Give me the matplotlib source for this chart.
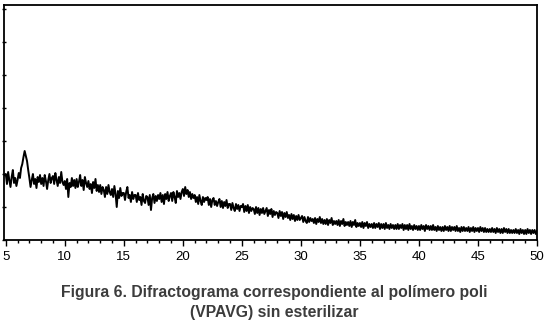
import numpy as np
import matplotlib.pyplot as plt

# 2-theta grid of the scan (deg), 0.1 deg step
theta_start = 4.9
theta_step = 0.1

# intensity (arbitrary units), one row per degree
intensity = [
    65,
    66, 56, 68, 60, 53, 63, 70, 57, 62, 54,
    60, 67, 62, 72, 76, 83, 89, 84, 79, 70,
    62, 53, 60, 66, 56, 61, 52, 63, 58, 65,
    56, 62, 54, 65, 59, 51, 60, 66, 57, 62,
    64, 56, 67, 60, 54, 63, 57, 68, 58, 55,
    59, 51, 61, 43, 57, 53, 62, 54, 60, 52,
    61, 53, 58, 65, 54, 60, 50, 63, 57, 53,
    59, 51, 56, 47, 58, 52, 61, 49, 55, 48,
    55, 46, 53, 50, 43, 53, 46, 55, 48, 45,
    51, 43, 54, 46, 33, 49, 42, 52, 44, 47,
    47, 40, 48, 53, 42, 45, 38, 48, 41, 45,
    45, 38, 47, 40, 43, 35, 46, 39, 37, 44,
    43, 35, 45, 30, 42, 46, 37, 44, 39, 45,
    41, 47, 38, 45, 36, 46, 41, 48, 39, 44,
    47, 39, 48, 43, 37, 49, 43, 47, 41, 48,
    51, 44, 53, 46, 50, 43, 48, 41, 46, 42,
    45, 38, 43, 36, 45, 39, 35, 43, 38, 42,
    40, 43, 35, 41, 33, 40, 42, 35, 39, 34,
    38, 41, 33, 39, 32, 38, 34, 40, 32, 36,
    36, 30, 37, 32, 29, 36, 31, 35, 29, 34,
    33, 36, 28, 34, 29, 35, 27, 33, 29, 32,
    31, 26, 33, 27, 32, 25, 31, 27, 32, 26,
    29, 32, 24, 30, 26, 31, 23, 29, 25, 28,
    27, 22, 29, 24, 28, 21, 27, 23, 28, 22,
    25, 20, 26, 21, 25, 19, 24, 20, 25, 20,
    22, 24, 18, 23, 19, 17, 23, 18, 22, 19,
    21, 17, 22, 16, 21, 18, 23, 17, 21, 16,
    20, 16, 21, 15, 20, 17, 22, 15, 19, 16,
    19, 15, 20, 14, 19, 16, 21, 14, 18, 15,
    18, 14, 19, 13, 18, 15, 20, 13, 17, 14,
    17, 13, 18, 12, 17, 14, 18, 12, 16, 13,
    16, 12, 17, 12, 16, 13, 17, 11, 16, 12,
    16, 11, 17, 12, 15, 11, 16, 12, 15, 11,
    15, 11, 16, 11, 15, 12, 16, 10, 15, 11,
    15, 10, 16, 11, 14, 10, 15, 11, 14, 10,
    14, 10, 15, 11, 14, 9, 15, 11, 14, 10,
    14, 10, 15, 10, 13, 9, 14, 10, 13, 9,
    13, 9, 14, 10, 13, 9, 14, 9, 13, 10,
    13, 9, 14, 9, 12, 8, 13, 9, 13, 9,
    12, 9, 13, 8, 12, 9, 13, 8, 12, 9,
    12, 8, 13, 9, 12, 8, 12, 8, 11, 8,
    11, 8, 12, 8, 11, 7, 12, 8, 11, 7,
    11, 7, 12, 8, 11, 7, 11, 7, 10, 7,
    10, 7, 11, 7, 10, 6, 11, 7, 10, 6,
    10, 6, 11, 7, 10, 6, 10, 7, 10, 6,
    9,
]

x_ticks = [5, 10, 15, 20, 25, 30, 35, 40, 45, 50]
caption = ["Figura 6. Difractograma correspondiente al polímero poli",
           "(VPAVG) sin esterilizar"]


def main():
    plt.rcParams['font.family'] = ['Liberation Sans', 'DejaVu Sans']
    y = np.asarray(intensity, dtype=float)
    x = theta_start + theta_step * np.arange(len(y))

    fig = plt.figure(figsize=(5.48, 3.34), dpi=100)
    ax = fig.add_axes([4/548, 94/334, 533/548, 235/334])
    ax.plot(x, y, color='black', lw=1.4)

    ax.set_xlim(4.85, 50)
    ax.set_ylim(0, 235)
    ax.set_xticks(x_ticks)
    ax.set_xticks(np.arange(5, 51, 1), minor=True)
    ax.set_yticks(np.arange(0, 235, 33))
    ax.set_yticklabels([])
    ax.tick_params(axis='x', which='major', direction='out', length=4,
                   width=1, labelsize=9.5, pad=4)
    ax.tick_params(axis='x', which='minor', direction='out', length=2, width=1)
    ax.tick_params(axis='y', direction='inout', length=3, width=1)
    for s in ax.spines.values():
        s.set_linewidth(1.3)

    fig.text(0.5, 1 - 292/334, caption[0], ha='center', va='center',
             fontsize=11.3, fontweight='bold', color='#3c3c3c')
    fig.text(0.5, 1 - 312/334, caption[1], ha='center', va='center',
             fontsize=11.3, fontweight='bold', color='#3c3c3c')

    fig.savefig('out.png', dpi=100)


if __name__ == "__main__":
    main()
